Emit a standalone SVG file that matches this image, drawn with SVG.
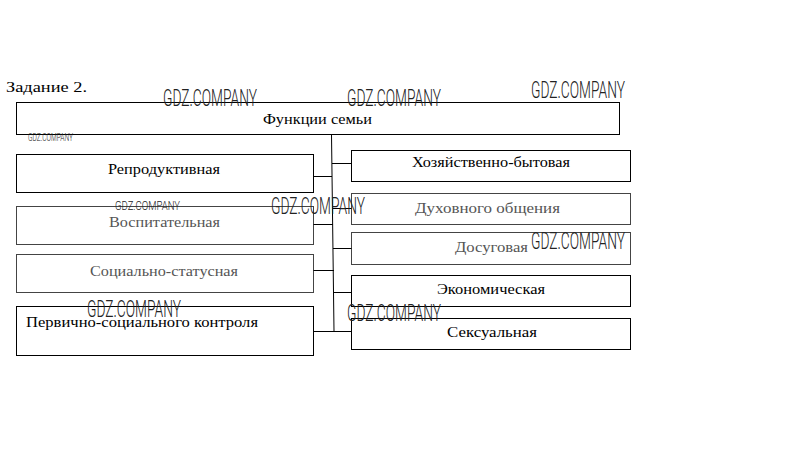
<svg xmlns="http://www.w3.org/2000/svg" width="809" height="456" viewBox="0 0 809 456">
<style>
.box{fill:none;stroke:#000;stroke-width:1}
.faint{stroke:#444}
.t{font-family:"Liberation Serif","Times New Roman",serif;font-size:15.5px;fill:#000}
.g{fill:#555}
.wm{font-family:"Roboto","Liberation Sans",sans-serif;font-weight:300;fill:#222}
.ln{stroke:#000;stroke-width:1;fill:none}
</style>
<rect width="809" height="456" fill="#fff"/>
<text class="t" x="6" y="92" font-size="16" textLength="81" lengthAdjust="spacingAndGlyphs">Задание 2.</text>
<g id="root"><rect class="box" x="16.5" y="102.5" width="603" height="32"/><text class="t" x="263" y="124" textLength="109" lengthAdjust="spacingAndGlyphs">Функции семьи</text></g>
<g id="reprod"><rect class="box" x="16.5" y="154.5" width="297" height="38"/><text class="t" x="108" y="174" textLength="112" lengthAdjust="spacingAndGlyphs">Репродуктивная</text></g>
<g id="vospit"><rect class="box faint" x="16.5" y="206.5" width="297" height="38"/><text class="t g" x="109" y="227" textLength="111" lengthAdjust="spacingAndGlyphs">Воспитательная</text></g>
<g id="social"><rect class="box faint" x="16.5" y="254.5" width="297" height="38"/><text class="t g" x="90" y="276" textLength="148" lengthAdjust="spacingAndGlyphs">Социально-статусная</text></g>
<g id="control"><rect class="box" x="16.5" y="306.5" width="297" height="49"/><text class="t" x="26" y="327" textLength="232" lengthAdjust="spacingAndGlyphs">Первично-социального контроля</text></g>
<g id="household"><rect class="box" x="351.5" y="150.5" width="279" height="31"/><text class="t" x="412" y="167" textLength="158" lengthAdjust="spacingAndGlyphs">Хозяйственно-бытовая</text></g>
<g id="spiritual"><rect class="box faint" x="351.5" y="193.5" width="279" height="31"/><text class="t g" x="415" y="213" textLength="145" lengthAdjust="spacingAndGlyphs">Духовного общения</text></g>
<g id="leisure"><rect class="box faint" x="351.5" y="232.5" width="279" height="32"/><text class="t g" x="455" y="252" textLength="73" lengthAdjust="spacingAndGlyphs">Досуговая</text></g>
<g id="economic"><rect class="box" x="351.5" y="275.5" width="279" height="31"/><text class="t" x="437" y="294" textLength="108" lengthAdjust="spacingAndGlyphs">Экономическая</text></g>
<g id="sexual"><rect class="box" x="351.5" y="318.5" width="279" height="31"/><text class="t" x="447" y="337" textLength="90" lengthAdjust="spacingAndGlyphs">Сексуальная</text></g>
<g id="connectors">
<line class="ln" x1="331.5" y1="134.5" x2="334" y2="331.5" stroke="#555"/>
<line class="ln" x1="313.5" y1="176.5" x2="332" y2="176.5"/>
<line class="ln" x1="332" y1="163.5" x2="351.5" y2="163.5"/>
<line class="ln" x1="313.5" y1="224.5" x2="333" y2="224.5" stroke="#555"/>
<line class="ln" x1="333" y1="208.5" x2="351.5" y2="208.5" stroke="#555"/>
<line class="ln" x1="333" y1="248.5" x2="351.5" y2="248.5" stroke="#555"/>
<line class="ln" x1="313.5" y1="270.5" x2="334" y2="270.5"/>
<line class="ln" x1="334" y1="292.5" x2="351.5" y2="292.5"/>
<line class="ln" x1="313.5" y1="331.5" x2="351.5" y2="331.5"/>
</g>
<g id="watermarks" class="wm">
<text x="163" y="106" font-size="24" textLength="94" lengthAdjust="spacingAndGlyphs">GDZ.COMPANY</text>
<text x="347" y="106" font-size="24" textLength="94" lengthAdjust="spacingAndGlyphs">GDZ.COMPANY</text>
<text x="531" y="98" font-size="24" textLength="94" lengthAdjust="spacingAndGlyphs">GDZ.COMPANY</text>
<text x="271" y="214" font-size="24" textLength="94" lengthAdjust="spacingAndGlyphs">GDZ.COMPANY</text>
<text x="531" y="249" font-size="24" textLength="94" lengthAdjust="spacingAndGlyphs">GDZ.COMPANY</text>
<text x="87" y="317" font-size="24" textLength="94" lengthAdjust="spacingAndGlyphs">GDZ.COMPANY</text>
<text x="347" y="321" font-size="24" textLength="94" lengthAdjust="spacingAndGlyphs">GDZ.COMPANY</text>
<text x="28" y="141" font-size="11" textLength="45" lengthAdjust="spacingAndGlyphs">GDZ.COMPANY</text>
<text x="115" y="210" font-size="13" textLength="65" lengthAdjust="spacingAndGlyphs">GDZ.COMPANY</text>
</g>
</svg>
